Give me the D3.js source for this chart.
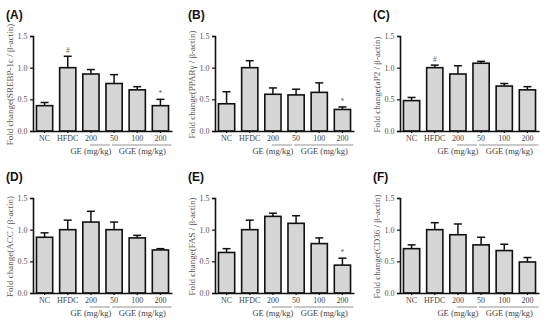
<!DOCTYPE html>
<html>
<head>
<meta charset="utf-8">
<script src="https://cdn.jsdelivr.net/npm/d3@7"></script>
<style>
html,body{margin:0;padding:0;background:#fff;}
svg{display:block;}
</style>
</head>
<body>
<svg id="chart" width="550" height="324"></svg>
<script>
// ---- data ----
const categories = ["NC", "HFDC", "200", "50", "100", "200"];
const panelLabels = ["(A)", "(B)", "(C)", "(D)", "(E)", "(F)"];
const genes = ["SREBP-1c", "PPARγ", "aP2", "ACC", "FAS", "CD36"];
const yTicks = [0, 0.5, 1.0, 1.5];
const groupLabels = ["GE (mg/kg)", "GGE (mg/kg)"];

const meanA = [0.40, 1.00, 0.90, 0.75, 0.65, 0.40];
const errA  = [0.05, 0.18, 0.07, 0.14, 0.05, 0.10];
const markA = ["", "#", "", "", "", "*"];

const meanB = [0.43, 1.00, 0.58, 0.57, 0.61, 0.34];
const errB  = [0.19, 0.11, 0.10, 0.09, 0.15, 0.04];
const markB = ["", "", "", "", "", "*"];

const meanC = [0.48, 1.00, 0.90, 1.07, 0.71, 0.65];
const errC  = [0.05, 0.04, 0.13, 0.03, 0.04, 0.05];
const markC = ["", "#", "", "", "", ""];

const meanD = [0.88, 1.00, 1.12, 1.00, 0.87, 0.68];
const errD  = [0.07, 0.15, 0.17, 0.12, 0.04, 0.02];
const markD = ["", "", "", "", "", ""];

const meanE = [0.64, 1.00, 1.21, 1.10, 0.78, 0.44];
const errE  = [0.06, 0.15, 0.05, 0.12, 0.09, 0.11];
const markE = ["", "", "", "", "", "*"];

const meanF = [0.70, 1.00, 0.92, 0.76, 0.67, 0.49];
const errF  = [0.06, 0.11, 0.17, 0.12, 0.10, 0.07];
const markF = ["", "", "", "", "", ""];

const panels = [
  {mean: meanA, err: errA, mark: markA},
  {mean: meanB, err: errB, mark: markB},
  {mean: meanC, err: errC, mark: markC},
  {mean: meanD, err: errD, mark: markD},
  {mean: meanE, err: errE, mark: markE},
  {mean: meanF, err: errF, mark: markF}
];

// ---- layout ----
const colOff = [0, 182, 367];
const rowOff = [0, 162];
const serif = "'Liberation Serif','Times New Roman',serif";
const svg = d3.select("#chart");

panels.forEach((p, i) => {
  const ox = colOff[i % 3], oy = rowOff[Math.floor(i / 3)];
  const g = svg.append("g").attr("transform", `translate(${ox},${oy})`);
  const axX = 33, y0 = 131, yTop = 36;

  const x = d3.scaleBand().domain(d3.range(categories.length))
    .range([axX, axX + 139]).paddingInner(0.3).paddingOuter(0.15);
  const y = d3.scaleLinear().domain([0, 1.5]).range([y0, yTop]);

  // panel label
  g.append("text").attr("x", 6).attr("y", 19)
    .attr("font-family", "'Liberation Sans',Arial,sans-serif")
    .attr("font-weight", "bold").attr("font-size", 12).attr("fill", "#111")
    .text(panelLabels[i]);

  // y title
  g.append("text")
    .attr("transform", `translate(13,${(y0 + yTop) / 2 + 1}) rotate(-90)`)
    .attr("text-anchor", "middle")
    .attr("font-family", serif).attr("font-size", 9).attr("fill", "#555")
    .text(`Fold change(${genes[i]} / β-actin)`);

  // bars
  g.selectAll("rect.bar").data(p.mean).enter().append("rect")
    .attr("x", (d, j) => x(j)).attr("width", x.bandwidth())
    .attr("y", d => y(d)).attr("height", d => y0 - y(d))
    .attr("fill", "#d6d6d6").attr("stroke", "#111").attr("stroke-width", 1.6);

  // error bars (upper only)
  p.mean.forEach((m, j) => {
    const cx = x(j) + x.bandwidth() / 2;
    const top = y(m + p.err[j]);
    g.append("line").attr("x1", cx).attr("x2", cx)
      .attr("y1", y(m)).attr("y2", top)
      .attr("stroke", "#111").attr("stroke-width", 1.5);
    g.append("line").attr("x1", cx - 4).attr("x2", cx + 4)
      .attr("y1", top).attr("y2", top)
      .attr("stroke", "#111").attr("stroke-width", 1.5);
    if (p.mark[j]) {
      g.append("text").attr("x", cx).attr("y", top - 3)
        .attr("text-anchor", "middle")
        .attr("font-family", serif).attr("font-size", 7.5).attr("fill", "#666")
        .text(p.mark[j]);
    }
  });

  // y axis
  const yAxis = d3.axisLeft(y).tickValues(yTicks).tickFormat(d3.format(".1f"))
    .tickSize(3).tickPadding(2.5);
  const ya = g.append("g").attr("transform", `translate(${axX},0)`).call(yAxis);
  ya.select(".domain").attr("stroke", "#111").attr("stroke-width", 1.6);
  ya.selectAll(".tick line").attr("stroke", "#111").attr("stroke-width", 1.2);
  ya.selectAll(".tick text").attr("font-family", serif).attr("font-size", 8).attr("fill", "#555");

  // x axis
  const xAxis = d3.axisBottom(x).tickFormat(j => categories[j]).tickSize(2).tickPadding(2).tickSizeOuter(0);
  const xa = g.append("g").attr("transform", `translate(0,${y0})`).call(xAxis);
  xa.select(".domain").attr("stroke", "#111").attr("stroke-width", 1.6);
  xa.selectAll(".tick line").attr("stroke", "#111").attr("stroke-width", 1.2);
  xa.selectAll(".tick text").attr("font-family", serif).attr("font-size", 8).attr("fill", "#444");

  // group lines + labels
  const c = j => x(j) + x.bandwidth() / 2;
  const groups = [
    {x1: c(2) - 1, x2: c(2) + 19, lx: c(2), label: groupLabels[0]},
    {x1: c(3) - 2, x2: c(5) + 11, lx: (c(3) + c(5)) / 2 + 5, label: groupLabels[1]}
  ];
  groups.forEach(gr => {
    g.append("line").attr("x1", gr.x1).attr("x2", gr.x2)
      .attr("y1", y0 + 14).attr("y2", y0 + 14)
      .attr("stroke", "#777").attr("stroke-width", 0.8);
    g.append("text").attr("x", gr.lx).attr("y", y0 + 22.5)
      .attr("text-anchor", "middle")
      .attr("font-family", serif).attr("font-size", 8.5).attr("fill", "#444")
      .text(gr.label);
  });
});
</script>
</body>
</html>
